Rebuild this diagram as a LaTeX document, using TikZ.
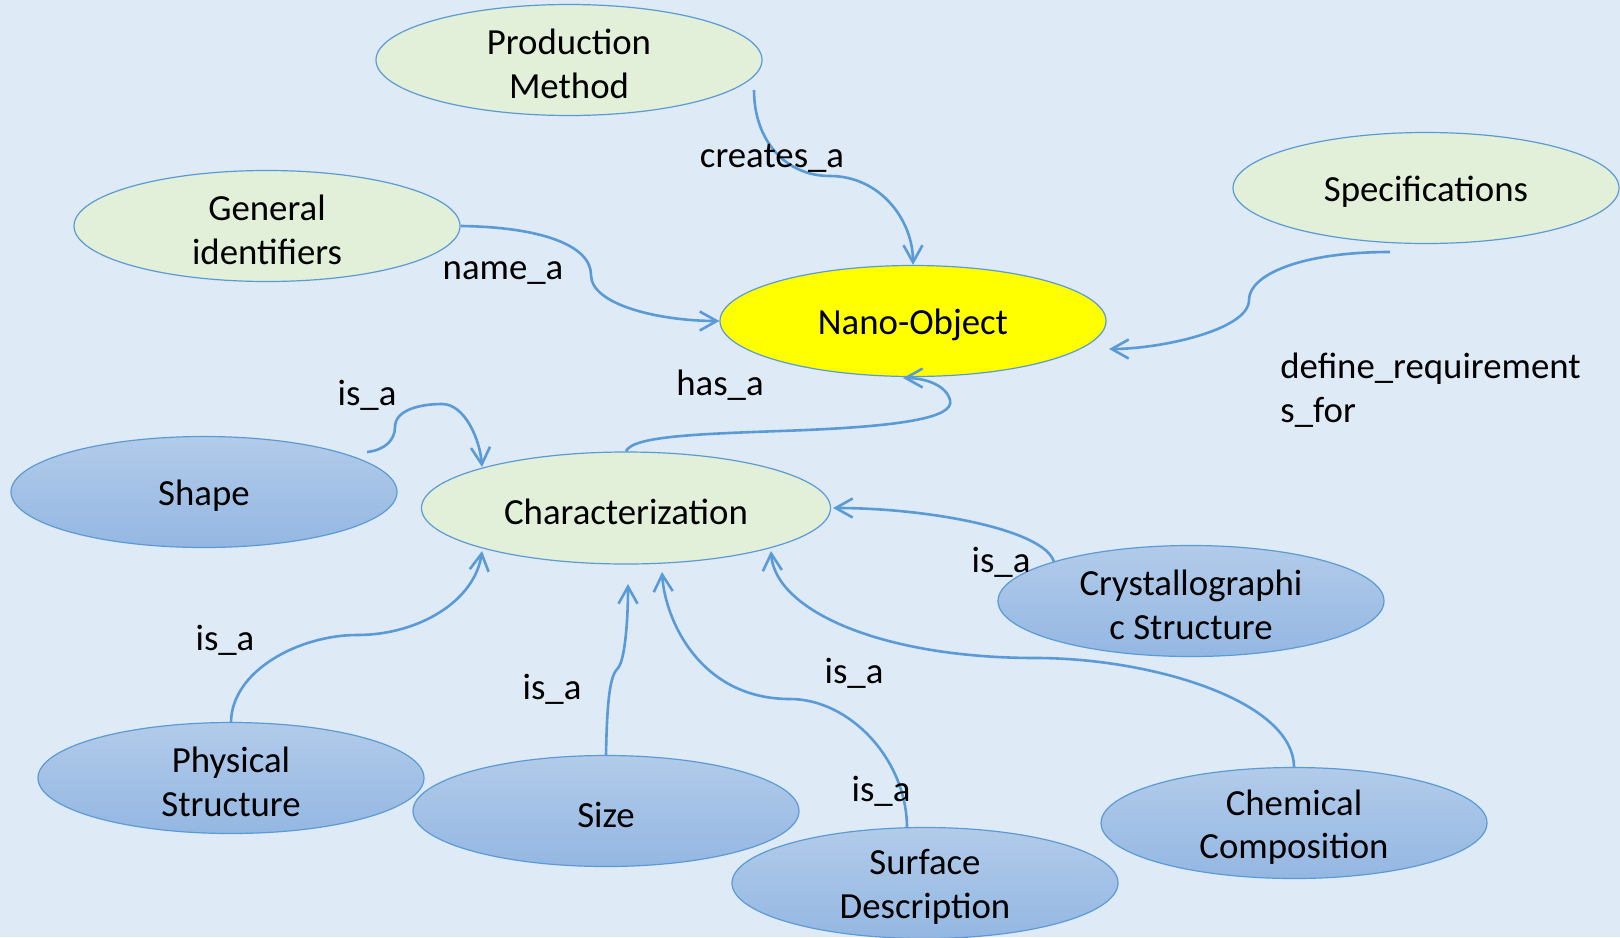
\documentclass[tikz,border=0pt]{standalone}
\usepackage{fontspec}
\setmainfont{Carlito}
\usetikzlibrary{shapes.geometric,arrows.meta,calc}
\definecolor{bg}{RGB}{222,234,246}
\definecolor{edgec}{RGB}{91,155,213}
\definecolor{gfill}{RGB}{226,239,217}
\definecolor{btop}{RGB}{178,203,234}
\definecolor{bbot}{RGB}{148,183,226}
\definecolor{yfill}{RGB}{255,255,0}
\begin{document}
\begin{tikzpicture}[x=0.5pt,y=-0.5pt,
  font=\fontsize{18.4}{21.7}\selectfont,
  every label/.style={align=center, yshift=-2pt},
  ell/.style={ellipse, draw=edgec, line width=0.6pt, minimum width=193pt, minimum height=55.5pt, inner sep=0pt},
  gell/.style={ell, fill=gfill},
  bell/.style={ell, top color=btop, bottom color=bbot},
  conn/.style={draw=edgec, line width=1.3pt, -{Straight Barb[length=8.5pt,width=9.5pt]}},
  lbl/.style={inner sep=0pt, anchor=center, align=left, yshift=-1.5pt}]
\fill[bg] (0,0) rectangle (1620,937);
\useasboundingbox (0,0) rectangle (1620,937);

% nodes
\node[gell, label={center:Production\\Method}] (pm) at (569,60) {};
\node[gell, label={center:General\\identifiers}] (gi) at (267,226) {};
\node[gell, label={center:Specifications}] (spec) at (1426,188) {};
\node[ell, fill=yfill, label={center:Nano-Object}] (nano) at (913,321) {};
\node[gell, minimum width=204.5pt, minimum height=56pt, label={center:Characterization}] (char) at (626,508) {};
\node[bell, label={center:Shape}] (shape) at (204,492) {};
\node[bell, label={center:Crystallographi\\c Structure}] (crys) at (1191,601) {};
\node[bell, label={center:Physical\\Structure}] (phys) at (231,778) {};
\node[bell, label={center:Size}] (size) at (606,811) {};
\node[bell, label={center:Surface\\Description}] (surf) at (925,883) {};
\node[bell, label={center:Chemical\\Composition}] (chem) at (1294,823) {};

% connectors
\draw[conn] ($(pm)+(185,30)$) .. controls (754,140) and (785,176) .. (830,176)
  .. controls (880,176) and (913,220) .. (nano.north);
\draw[conn] (gi.east) .. controls (540,227) and (591,245) .. (591,275)
  .. controls (591,305) and (660,321) .. (nano.west);
\draw[conn] ($(spec)+(-36,64)$) .. controls (1300,252) and (1249,275) .. (1249,300)
  .. controls (1249,330) and (1160,349) .. ($(nano)+(196,28)$);
\draw[conn] (char.north) .. controls (632,436) and (700,434) .. (780,431)
  .. controls (900,427) and (955,418) .. (950,400)
  .. controls (946,385) and (925,378) .. ($(nano)+(-10,57)$);
\draw[conn] ($(shape)+(163,-40)$) .. controls (385,450) and (395,440) .. (395,427)
  .. controls (395,410) and (420,404) .. (442,404)
  .. controls (465,404) and (480,440) .. ($(char)+(-144,-41)$);
\draw[conn] (phys.north) .. controls (232,670) and (300,635) .. (357,635)
  .. controls (420,635) and (475,600) .. ($(char)+(-144,43)$);
\draw[conn] (size.north) .. controls (607,700) and (610,675) .. (618,668)
  .. controls (625,660) and (628,620) .. ($(char)+(2,76)$);
\draw[conn] ($(surf)+(-18,-55)$) .. controls (907,760) and (850,699) .. (790,699)
  .. controls (700,699) and (665,620) .. ($(char)+(36,64)$);
\draw[conn] ($(crys)+(-137,-39)$) .. controls (1045,530) and (930,508) .. ($(char)+(207,0)$);
\draw[conn] (chem.north) .. controls (1293,700) and (1150,658) .. (1036,658)
  .. controls (880,658) and (775,610) .. ($(char)+(145,43)$);

% labels
\node[lbl] (l1) at (772,155) {creates\_a};
\node[lbl] (l2) at (503,270) {name\_a};
\node[lbl, anchor=west] (l3) at (1280,387) {define\_requirement\\s\_for};
\node[lbl] (l4) at (720,382) {has\_a};
\node[lbl] (l5) at (367,392) {is\_a};
\node[lbl] (l6) at (225,637) {is\_a};
\node[lbl] (l7) at (552,686) {is\_a};
\node[lbl] (l8) at (854,670) {is\_a};
\node[lbl] (l9) at (881,788) {is\_a};
\node[lbl] (l10) at (1001,559) {is\_a};
\end{tikzpicture}
\end{document}
